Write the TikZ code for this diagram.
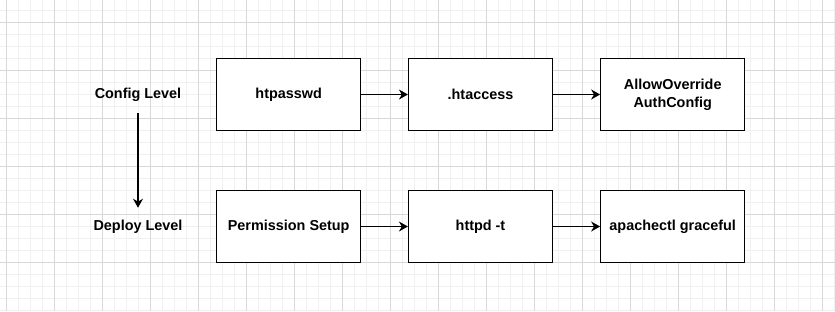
\documentclass[tikz,border=0pt]{standalone}
\usepackage{fontspec}
\setmainfont{Liberation Sans}
\usetikzlibrary{arrows.meta}
\definecolor{gridminor}{RGB}{240,240,240}
\definecolor{gridmajor}{RGB}{216,216,216}
\tikzset{
  stepbox/.style={draw=black,line width=0.9pt,fill=white,minimum width=108pt,minimum height=54pt,inner sep=0pt,
    align=center,font=\fontsize{10.8}{13.5}\selectfont\bfseries},
  levellabel/.style={inner sep=0pt,minimum height=27.75pt,font=\fontsize{10.8}{13.5}\selectfont\bfseries},
  flow/.style={line width=0.9pt,-{Stealth[length=6.75pt,width=7.5pt,inset=2.2pt]}}
}
\begin{document}
\begin{tikzpicture}[x=0.75pt,y=-0.75pt]
  \useasboundingbox (0,0) rectangle (835,311);
  \fill[white] (0,0) rectangle (835,311);
  % grid
  \foreach \gx in {0,...,69} \draw[gridminor,line width=0.75pt] (6+12*\gx,0) -- (6+12*\gx,311);
  \foreach \gy in {0,...,25} \draw[gridminor,line width=0.75pt] (0,10+12*\gy) -- (835,10+12*\gy);
  \foreach \gx in {0,...,17} \draw[gridmajor,line width=0.75pt] (6+48*\gx,0) -- (6+48*\gx,311);
  \foreach \gy in {0,...,5} \draw[gridmajor,line width=0.75pt] (0,22+48*\gy) -- (835,22+48*\gy);

  \node[levellabel] (cfg) at (138,94.5) {Config Level};
  \node[levellabel] (dep) at (138,226.5) {Deploy Level};
  \node[stepbox] (htpasswd) at (288.7,94.5) {htpasswd};
  \node[stepbox] (htaccess) at (480.5,94.5) {.htaccess};
  \node[stepbox] (override) at (672.7,94.5) {AllowOverride\\AuthConfig};
  \node[stepbox] (perm) at (288.7,226.5) {Permission Setup};
  \node[stepbox] (httpdt) at (480.5,226.5) {httpd -t};
  \node[stepbox] (graceful) at (672.7,226.5) {apachectl graceful};

  \draw[flow] (cfg) -- (dep);
  \draw[flow] (htpasswd) -- (htaccess);
  \draw[flow] (htaccess) -- (override);
  \draw[flow] (perm) -- (httpdt);
  \draw[flow] (httpdt) -- (graceful);
\end{tikzpicture}
\end{document}
